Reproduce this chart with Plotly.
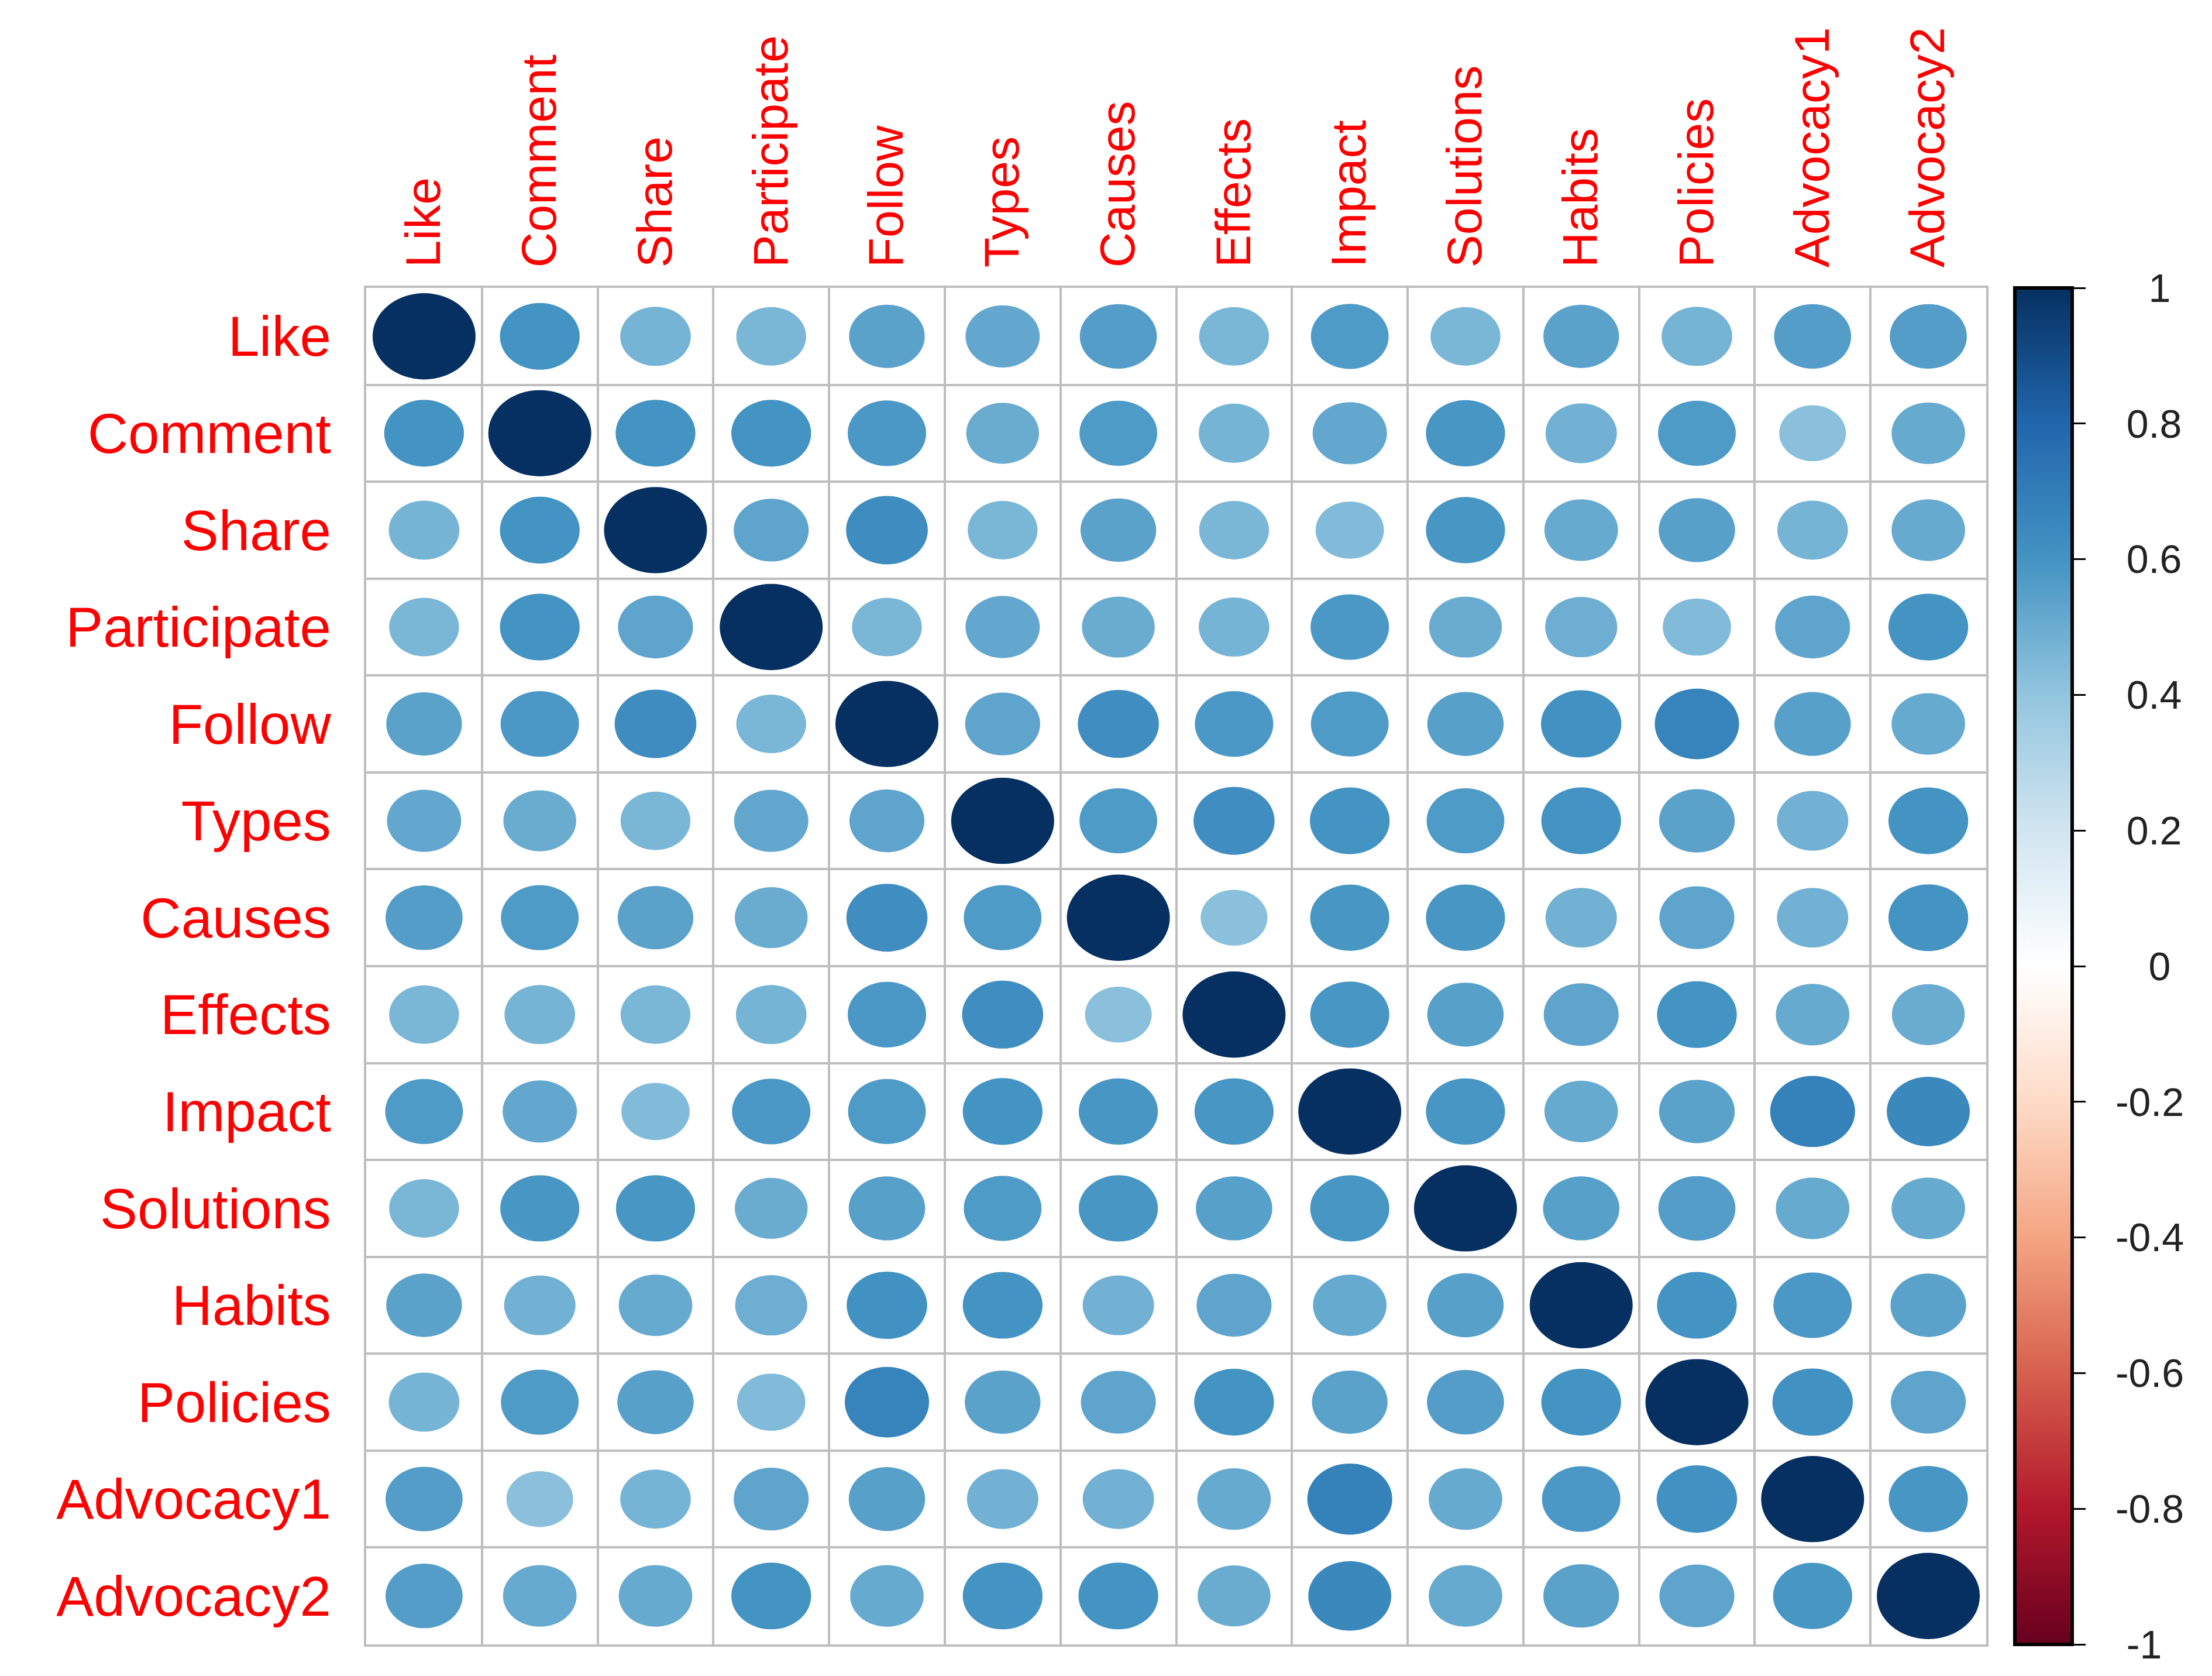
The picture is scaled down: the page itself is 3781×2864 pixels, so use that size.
import plotly.graph_objects as go
from plotly.colors import sample_colorscale

variables = ["Like", "Comment", "Share", "Participate", "Follow", "Types", "Causes",
             "Effects", "Impact", "Solutions", "Habits", "Policies", "Advocacy1", "Advocacy2"]

corr_like        = [1.00, 0.60, 0.47, 0.46, 0.54, 0.52, 0.56, 0.46, 0.57, 0.46, 0.54, 0.47, 0.56, 0.56]
corr_comment     = [0.60, 1.00, 0.60, 0.60, 0.58, 0.50, 0.57, 0.47, 0.52, 0.59, 0.48, 0.57, 0.42, 0.51]
corr_share       = [0.47, 0.60, 1.00, 0.53, 0.63, 0.46, 0.54, 0.46, 0.44, 0.59, 0.51, 0.55, 0.47, 0.51]
corr_participate = [0.46, 0.60, 0.53, 1.00, 0.46, 0.52, 0.50, 0.47, 0.58, 0.50, 0.49, 0.44, 0.53, 0.60]
corr_follow      = [0.54, 0.58, 0.63, 0.46, 1.00, 0.53, 0.62, 0.58, 0.57, 0.55, 0.61, 0.67, 0.55, 0.51]
corr_types       = [0.52, 0.50, 0.46, 0.52, 0.53, 1.00, 0.57, 0.62, 0.60, 0.57, 0.60, 0.54, 0.48, 0.60]
corr_causes      = [0.56, 0.57, 0.54, 0.50, 0.62, 0.57, 1.00, 0.42, 0.59, 0.59, 0.48, 0.53, 0.48, 0.60]
corr_effects     = [0.46, 0.47, 0.46, 0.47, 0.58, 0.62, 0.42, 1.00, 0.59, 0.55, 0.53, 0.60, 0.51, 0.50]
corr_impact      = [0.57, 0.52, 0.44, 0.58, 0.57, 0.60, 0.59, 0.59, 1.00, 0.59, 0.51, 0.54, 0.68, 0.65]
corr_solutions   = [0.46, 0.59, 0.59, 0.50, 0.55, 0.57, 0.59, 0.55, 0.59, 1.00, 0.55, 0.56, 0.51, 0.51]
corr_habits      = [0.54, 0.48, 0.51, 0.49, 0.61, 0.60, 0.48, 0.53, 0.51, 0.55, 1.00, 0.60, 0.58, 0.54]
corr_policies    = [0.47, 0.57, 0.55, 0.44, 0.67, 0.54, 0.53, 0.60, 0.54, 0.56, 0.60, 1.00, 0.61, 0.53]
corr_advocacy1   = [0.56, 0.42, 0.47, 0.53, 0.55, 0.48, 0.48, 0.51, 0.68, 0.51, 0.58, 0.61, 1.00, 0.59]
corr_advocacy2   = [0.56, 0.51, 0.51, 0.60, 0.51, 0.60, 0.60, 0.50, 0.65, 0.51, 0.54, 0.53, 0.59, 1.00]

corr_rows = [corr_like, corr_comment, corr_share, corr_participate, corr_follow, corr_types,
             corr_causes, corr_effects, corr_impact, corr_solutions, corr_habits, corr_policies,
             corr_advocacy1, corr_advocacy2]

colorbar_ticks = [-1, -0.8, -0.6, -0.4, -0.2, 0, 0.2, 0.4, 0.6, 0.8, 1]
colorbar_ticktext = ["-1", "-0.8", "-0.6", "-0.4", "-0.2", "0", "0.2", "0.4", "0.6", "0.8", "1"]

rdbu_colors = ["#67001F", "#B2182B", "#D6604D", "#F4A582", "#FDDBC7", "#FFFFFF",
               "#D1E5F0", "#92C5DE", "#4393C3", "#2166AC", "#053061"]
colorscale = [[i / (len(rdbu_colors) - 1), c] for i, c in enumerate(rdbu_colors)]

W, H = 3781, 2864
n = len(variables)
pos = list(range(1, n + 1))

# circles: area proportional to |r| (corrplot "circle" method)
shapes = []
xs, ys, vals, hov = [], [], [], []
for i, row in enumerate(corr_rows):
    for j, r in enumerate(row):
        rad = 0.445 * abs(r) ** 0.5
        col = sample_colorscale(colorscale, [(r + 1) / 2])[0]
        shapes.append(dict(type="circle", xref="x", yref="y",
                           x0=pos[j] - rad, x1=pos[j] + rad,
                           y0=pos[i] - rad, y1=pos[i] + rad,
                           fillcolor=col, line=dict(width=0), layer="above"))
        xs.append(pos[j]); ys.append(pos[i]); vals.append(r)
        hov.append(f"{variables[i]} – {variables[j]}: {r:.2f}")


# centre-ish alignment of colourbar labels (corrplot centres them)
def pad_label(t):
    if t in ("0", "1"):
        k = 5
    elif t == "-1":
        k = 3
    elif t.startswith("-"):
        k = 2
    else:
        k = 3
    return "\u00a0" * k + t


fig = go.Figure()
fig.add_trace(go.Scatter(
    x=xs, y=ys, mode="markers", text=hov, hoverinfo="text",
    marker=dict(size=40, color=vals, cmin=-1, cmax=1, colorscale=colorscale, opacity=0,
                showscale=True,
                colorbar=dict(
                    x=3436 / W, xanchor="left", xpad=0,
                    y=1 - 2802 / H, yanchor="bottom", ypad=0,
                    len=(2802 - 484) / H, lenmode="fraction",
                    thickness=98, thicknessmode="pixels",
                    outlinewidth=6, outlinecolor="black",
                    tickmode="array", tickvals=colorbar_ticks,
                    ticktext=[pad_label(t) for t in colorbar_ticktext],
                    ticks="outside", ticklen=20, tickwidth=3, tickcolor="black",
                    tickfont=dict(family="Liberation Sans, Arial, sans-serif", size=68, color="#222222"),
                )),
    showlegend=False))

grid_edges = [p - 0.5 for p in pos] + [n + 0.5]
label_font = "Liberation Sans, Arial, sans-serif"

fig.update_layout(
    width=W, height=H,
    margin=dict(l=0, r=0, t=0, b=0),
    paper_bgcolor="white", plot_bgcolor="white",
    shapes=shapes,
    xaxis=dict(domain=[618 / W, 3387 / W], range=[0.5, n + 0.5], side="top",
               tickmode="array", tickvals=pos, ticktext=variables, tickangle=-90,
               tickfont=dict(family=label_font, size=84, color="#FF0000"),
               ticklabelstandoff=14,
               showgrid=False, zeroline=False, automargin=False,
               showline=True, mirror=True, linecolor="#BEBEBE", linewidth=4,
               minor=dict(tickmode="array", tickvals=grid_edges, showgrid=True,
                          gridcolor="#BEBEBE", gridwidth=4, ticks="")),
    yaxis=dict(domain=[1 - 2802 / H, 1 - 484 / H], range=[n + 0.5, 0.5],
               tickmode="array", tickvals=pos, ticktext=variables,
               tickfont=dict(family=label_font, size=96, color="#FF0000"),
               ticklabelstandoff=37,
               showgrid=False, zeroline=False, automargin=False,
               showline=True, mirror=True, linecolor="#BEBEBE", linewidth=4,
               minor=dict(tickmode="array", tickvals=grid_edges, showgrid=True,
                          gridcolor="#BEBEBE", gridwidth=4, ticks="")),
)

fig.write_html("out.html")
